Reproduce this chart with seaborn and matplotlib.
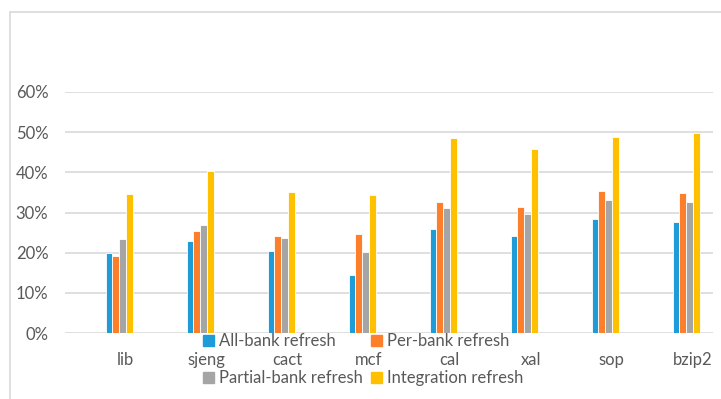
import seaborn as sns
import pandas as pd
import numpy as np
import matplotlib.pyplot as plt
from matplotlib.lines import Line2D

benchmarks = ["lib", "sjeng", "cact", "mcf", "cal", "xal", "sop", "bzip2"]
series = ["All-bank refresh", "Per-bank refresh", "Partial-bank refresh", "Integration refresh"]
all_bank = [20.0, 22.9, 20.3, 14.5, 25.9, 24.1, 28.3, 27.7]
per_bank = [19.2, 25.4, 24.1, 24.6, 32.6, 31.3, 35.3, 34.9]
partial_bank = [23.5, 26.8, 23.6, 20.2, 31.0, 29.7, 33.1, 32.6]
integration = [34.7, 40.4, 35.0, 34.4, 48.5, 45.8, 48.9, 49.7]
colors = ["#1F9BD7", "#FD7F2C", "#A5A5A5", "#FFC000"]

rows = []
for name, vals in zip(series, [all_bank, per_bank, partial_bank, integration]):
    for b, v in zip(benchmarks, vals):
        rows.append({"bench": b, "scheme": name, "value": v / 100})
df = pd.DataFrame(rows)

sns.set_style("white")
plt.rcParams["font.family"] = ["Lato", "DejaVu Sans"]
text_color = "#595959"

fig = plt.figure(figsize=(7.21, 3.99), dpi=100)
ax = fig.add_axes([65 / 721, 1 - 333 / 399, 648 / 721, 241 / 399])

sns.barplot(
    data=df, x="bench", y="value", hue="scheme",
    palette=colors, saturation=1, width=1 / 3, edgecolor="white", linewidth=0.6,
    ax=ax, legend=False,
)

ax.set_ylim(0, 0.6)
ax.set_xlim(-0.667, 7.333)
ax.set_yticks(np.arange(0, 0.61, 0.1))
ax.set_yticklabels([f"{int(round(t * 100))}%" for t in np.arange(0, 0.61, 0.1)])
ax.set_xticks(np.arange(len(benchmarks)) + 0.083)
ax.set_xticklabels(benchmarks)
ax.yaxis.grid(True, color="#D9D9D9", linewidth=1.2)
ax.set_axisbelow(True)
ax.tick_params(axis="both", length=0, labelsize=12, labelcolor=text_color)
ax.tick_params(axis="y", pad=12)
ax.tick_params(axis="x", pad=14)
ax.set_xlabel("")
ax.set_ylabel("")
sns.despine(ax=ax, left=True, bottom=True)

# legend, two rows around the category labels (column-major order)
order = [0, 2, 1, 3]
handles = [plt.Rectangle((0, 0), 1, 1, color=colors[i]) for i in order]
labels = [series[i] for i in order]
fig.legend(
    handles, labels, ncol=2, loc="upper left",
    bbox_to_anchor=(195 / 721, 1 - 325 / 399), frameon=False,
    fontsize=12, labelcolor=text_color, handlelength=0.65, handleheight=0.65,
    handletextpad=0.3, columnspacing=0.5, labelspacing=1.25, borderpad=0,
)

# chart area frame
fig.add_artist(Line2D([10 / 721, 1], [1 - 12 / 399] * 2, color="#D9D9D9", lw=1.2))
fig.add_artist(Line2D([10 / 721] * 2, [0, 1 - 12 / 399], color="#D9D9D9", lw=1.2))

plt.savefig("out.png", dpi=100)
